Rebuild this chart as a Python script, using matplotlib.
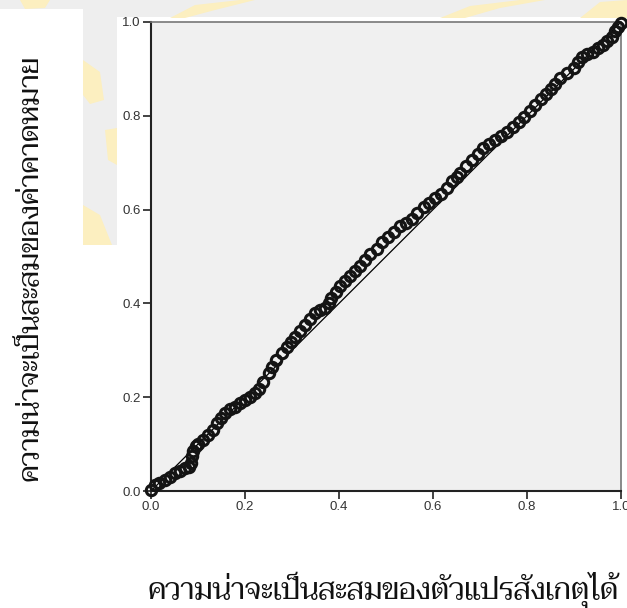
import matplotlib
matplotlib.use("Agg")
import matplotlib.pyplot as plt
from matplotlib import font_manager
from matplotlib.patches import Rectangle, Polygon

# observed cumulative probability (x) vs expected cumulative probability (y)
observed = [0.000, 0.008, 0.018, 0.030, 0.040, 0.051, 0.062, 0.072, 0.080, 0.085,
            0.087, 0.090, 0.095, 0.100, 0.110, 0.122, 0.131, 0.140, 0.148, 0.157,
            0.168, 0.179, 0.190, 0.200, 0.211, 0.221, 0.230, 0.239, 0.250, 0.258,
            0.267, 0.278, 0.289, 0.297, 0.306, 0.317, 0.328, 0.339, 0.349, 0.360,
            0.370, 0.378, 0.384, 0.393, 0.402, 0.412, 0.423, 0.434, 0.445, 0.455,
            0.467, 0.480, 0.492, 0.505, 0.518, 0.530, 0.542, 0.555, 0.567, 0.580,
            0.592, 0.604, 0.617, 0.629, 0.640, 0.650, 0.657, 0.670, 0.682, 0.695,
            0.707, 0.720, 0.732, 0.745, 0.757, 0.770, 0.782, 0.794, 0.806, 0.818,
            0.830, 0.840, 0.851, 0.860, 0.870, 0.885, 0.899, 0.908, 0.916, 0.928,
            0.941, 0.952, 0.962, 0.971, 0.980, 0.988, 0.994, 1.000]
expected = [0.003, 0.013, 0.017, 0.023, 0.030, 0.038, 0.043, 0.048, 0.052, 0.060,
            0.075, 0.085, 0.095, 0.100, 0.108, 0.119, 0.131, 0.144, 0.155, 0.166,
            0.174, 0.180, 0.187, 0.194, 0.201, 0.208, 0.218, 0.232, 0.251, 0.265,
            0.279, 0.294, 0.308, 0.318, 0.329, 0.342, 0.354, 0.367, 0.379, 0.386,
            0.390, 0.400, 0.411, 0.424, 0.437, 0.448, 0.459, 0.469, 0.480, 0.493,
            0.505, 0.517, 0.530, 0.542, 0.553, 0.564, 0.572, 0.581, 0.593, 0.606,
            0.615, 0.624, 0.633, 0.645, 0.660, 0.670, 0.677, 0.692, 0.706, 0.719,
            0.731, 0.740, 0.748, 0.757, 0.766, 0.776, 0.787, 0.798, 0.810, 0.822,
            0.835, 0.846, 0.857, 0.868, 0.880, 0.891, 0.901, 0.914, 0.926, 0.932,
            0.937, 0.944, 0.951, 0.960, 0.969, 0.980, 0.990, 0.998]
ticks = [0.0, 0.2, 0.4, 0.6, 0.8, 1.0]
xlabel = "ความน่าจะเป็นสะสมของตัวแปรสังเกตุได้"
ylabel = "ความน่าจะเป็นสะสมของค่าคาดหมาย"

names = {f.name for f in font_manager.fontManager.ttflist}
thai_font = next((n for n in ["Taviraj", "Trirong", "Noto Serif Thai", "Sarabun",
                              "Charm", "Athiti"] if n in names), "DejaVu Sans")

W, H = 627, 608
fig = plt.figure(figsize=(W / 100, H / 100), dpi=100, facecolor="#eeeeee")


def px(x, y):
    return x / W, 1 - y / H


def rect(x0, y0, x1, y1, color):
    fx, fy = px(x0, y1)
    fig.add_artist(Rectangle((fx, fy), (x1 - x0) / W, (y1 - y0) / H,
                             transform=fig.transFigure, color=color, lw=0, zorder=0))


# faint watermark bits showing in the gaps
for pts in [[(170, 18), (195, 5), (240, 0), (255, 0), (215, 10), (185, 18)],
            [(440, 18), (470, 6), (520, 0), (545, 0), (500, 8), (465, 18)],
            [(580, 18), (600, 2), (627, 0), (627, 18)],
            [(20, 0), (50, 0), (45, 8), (25, 9)],
            [(83, 60), (100, 72), (104, 100), (90, 104), (83, 95)],
            [(105, 130), (117, 128), (117, 165), (108, 160)],
            [(83, 205), (100, 215), (112, 245), (83, 245)]]:
    fig.add_artist(Polygon([px(*p) for p in pts], closed=True, transform=fig.transFigure,
                           color="#fcefc0", lw=0, zorder=0.5))

rect(0, 9, 83, H, "white")
rect(117, 17, W, H, "white")
rect(0, 245, W, H, "white")

ax = fig.add_axes([151 / W, 1 - 491 / H, 470 / W, 469 / H], zorder=2)
ax.set_facecolor("#f0f0f0")
ax.plot([0, 1], [0, 1], color="black", lw=0.9, zorder=2)
ax.plot(observed, expected, "o", ms=7.5, mfc="none", mec="#141414", mew=2.2, zorder=3,
        clip_on=False)

ax.set_xlim(0, 1)
ax.set_ylim(0, 1)
ax.set_xticks(ticks)
ax.set_yticks(ticks)
ax.set_xticklabels([f"{t:.1f}" for t in ticks])
ax.set_yticklabels([f"{t:.1f}" for t in ticks])
ax.tick_params(length=6, width=1.2, color="#222222", pad=1.5, labelsize=9.5,
               labelcolor="#333333")
for lab in ax.get_xticklabels() + ax.get_yticklabels():
    lab.set_fontfamily("Liberation Sans")
for side in ["left", "bottom"]:
    ax.spines[side].set_color("#222222")
    ax.spines[side].set_linewidth(1.5)
for side in ["top", "right"]:
    ax.spines[side].set_color("#777777")
    ax.spines[side].set_linewidth(1.2)

tx = fig.text(383 / W, 1 - 599 / H, xlabel, ha="center", va="baseline",
              fontsize=20, family=[thai_font, "DejaVu Sans"], color="#111111")
ty = fig.text(30 / W, 1 - 268 / H, ylabel, ha="center", va="center", rotation=90,
              fontsize=20, family=[thai_font, "DejaVu Sans"], color="#111111")

# scale the two labels to the width they take in the original
r = fig.canvas.get_renderer()
tx.set_fontsize(20 * 473 / tx.get_window_extent(r).width)
ty.set_fontsize(20 * 427 / ty.get_window_extent(r).height)

fig.savefig("out.png", dpi=100, facecolor=fig.get_facecolor())
